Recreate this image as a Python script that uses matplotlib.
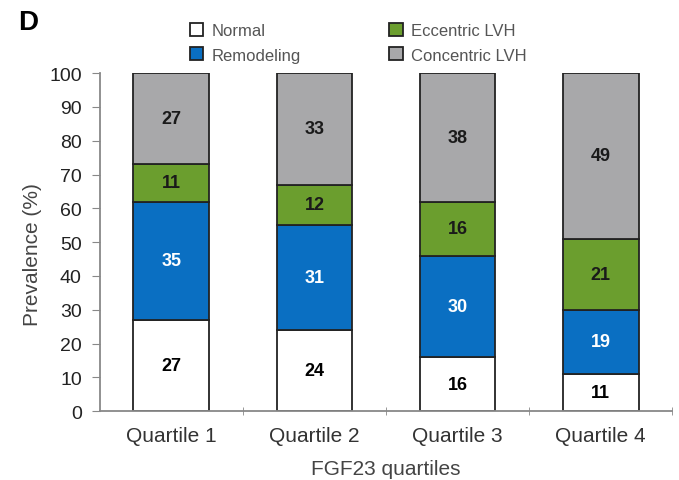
import matplotlib.pyplot as plt
import numpy as np

plt.rcParams['font.family'] = ['Liberation Sans', 'DejaVu Sans']

quartiles = ["Quartile 1", "Quartile 2", "Quartile 3", "Quartile 4"]
normal = [27, 24, 16, 11]
remodeling = [35, 31, 30, 19]
eccentric = [11, 12, 16, 21]
concentric = [27, 33, 38, 49]

series = [("Normal", normal, "white", "black"),
          ("Remodeling", remodeling, "#0a6fc2", "white"),
          ("Eccentric LVH", eccentric, "#6b9e2e", "#1a1a1a"),
          ("Concentric LVH", concentric, "#a8a8aa", "#1a1a1a")]

fig = plt.figure(figsize=(6.79, 4.81), dpi=100)
ax = fig.add_axes([0.147, 0.143, 0.843, 0.703])

x = np.arange(len(quartiles))
bottom = np.zeros(len(quartiles))
handles = {}
for name, vals, col, tcol in series:
    b = ax.bar(x, vals, 0.53, bottom=bottom, color=col, edgecolor="#222222", linewidth=1.3, label=name)
    handles[name] = b
    for xi, v, bt in zip(x, vals, bottom):
        ax.text(xi, bt + v / 2, str(v), ha="center", va="center", fontsize=13,
                fontweight="bold", color=tcol)
    bottom += vals

ax.set_xlim(-0.5, 3.5)
ax.set_ylim(0, 100)
ax.set_yticks(range(0, 101, 10))
ax.set_xticks(x)
ax.set_xticklabels(quartiles, fontsize=15, color="#333333")
ax.set_xticks([0.5, 1.5, 2.5, 3.5], minor=True)
ax.tick_params(axis="x", which="major", length=0, pad=11)
ax.tick_params(axis="x", which="minor", length=6, direction="inout", color="#888888")
ax.tick_params(axis="y", length=6, color="#888888", labelsize=14, labelcolor="#222222", pad=7)
for s in ["top", "right"]:
    ax.spines[s].set_visible(False)
ax.spines["left"].set_color("#888888")
ax.spines["bottom"].set_color("#888888")
ax.spines["left"].set_linewidth(1.3)
ax.spines["bottom"].set_linewidth(1.3)

ax.set_ylabel("Prevalence (%)", fontsize=15, color="#444444")
ax.yaxis.set_label_coords(-0.101, 0.465)
ax.set_xlabel("FGF23 quartiles", fontsize=15, color="#444444", labelpad=10)

order = ["Normal", "Remodeling", "Eccentric LVH", "Concentric LVH"]
leg = fig.legend([handles[n] for n in order], order, ncol=2, loc="upper left",
                 bbox_to_anchor=(0.280, 0.950), frameon=False, fontsize=12,
                 handlelength=0.8, handleheight=0.8, columnspacing=5.3,
                 labelspacing=0.55, handletextpad=0.5, borderpad=0, borderaxespad=0)
for t in leg.get_texts():
    t.set_color("#555555")

fig.text(0.041, 0.952, "D", fontsize=20, fontweight="bold", ha="center", va="center")

fig.savefig("out.png", dpi=100)
